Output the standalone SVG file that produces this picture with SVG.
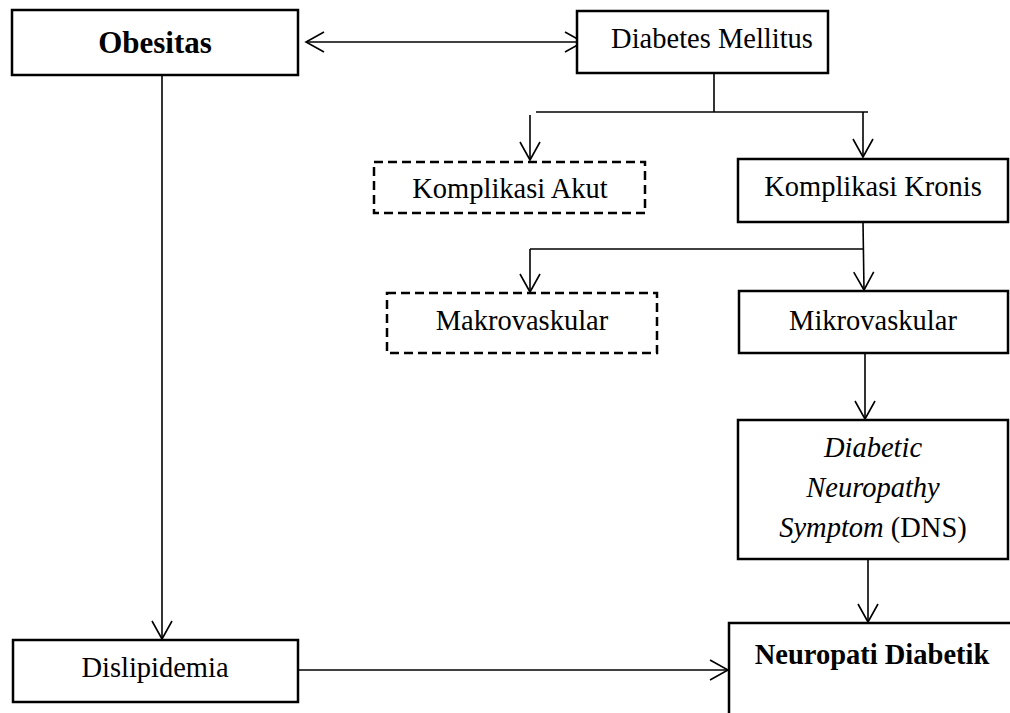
<svg xmlns="http://www.w3.org/2000/svg" width="1010" height="713" viewBox="0 0 1010 713">
<defs>
<style>
.box{fill:#fff;stroke:#000;stroke-width:2.5}
.dash{fill:#fff;stroke:#000;stroke-width:2.5;stroke-dasharray:9 5}
.t{font-family:"Liberation Serif","Times New Roman",serif;font-size:28.5px;fill:#000;text-anchor:middle}
.b{font-weight:bold}
.i{font-style:italic}
.c{fill:none;stroke:#000;stroke-width:1.6}
</style>
<marker id="ah" viewBox="-20 -12 22 24" refX="0" refY="0" markerWidth="22" markerHeight="24" markerUnits="userSpaceOnUse" orient="auto-start-reverse">
<path d="M-18,-10 L0,0 L-18,10" fill="none" stroke="#000" stroke-width="1.6"/>
</marker>
</defs>
<rect width="1010" height="713" fill="#fff"/>
<g id="connectors">
<line class="c" x1="306" y1="42" x2="583" y2="42" marker-start="url(#ah)" marker-end="url(#ah)"/>
<line class="c" x1="162" y1="75" x2="162" y2="639" marker-end="url(#ah)"/>
<polyline class="c" points="714,73 714,112"/>
<line class="c" x1="536" y1="112" x2="868" y2="112"/>
<line class="c" x1="530" y1="115" x2="530" y2="160" marker-end="url(#ah)"/>
<line class="c" x1="863" y1="112" x2="863" y2="157" marker-end="url(#ah)"/>
<line class="c" x1="863" y1="222" x2="864" y2="290" marker-end="url(#ah)"/>
<line class="c" x1="530" y1="249" x2="863" y2="249"/>
<line class="c" x1="530" y1="249" x2="530" y2="292" marker-end="url(#ah)"/>
<line class="c" x1="865" y1="353" x2="865" y2="419" marker-end="url(#ah)"/>
<line class="c" x1="868" y1="559" x2="868" y2="622" marker-end="url(#ah)"/>
<line class="c" x1="298" y1="670" x2="728" y2="670" marker-end="url(#ah)"/>
</g>
<g id="obesitas">
<rect class="box" x="12" y="10" width="286" height="65"/>
<text class="t b" x="155" y="53" style="font-size:31px">Obesitas</text>
</g>
<g id="diabetes-mellitus">
<rect class="box" x="577" y="11" width="251" height="62"/>
<text class="t" x="712" y="48">Diabetes Mellitus</text>
</g>
<g id="komplikasi-akut">
<rect class="dash" x="374" y="162" width="271" height="51"/>
<text class="t" x="510" y="198">Komplikasi Akut</text>
</g>
<g id="komplikasi-kronis">
<rect class="box" x="738" y="159" width="270" height="63"/>
<text class="t" x="873" y="196">Komplikasi Kronis</text>
</g>
<g id="makrovaskular">
<rect class="dash" x="387" y="293" width="270" height="60"/>
<text class="t" x="522" y="330">Makrovaskular</text>
</g>
<g id="mikrovaskular">
<rect class="box" x="739" y="291" width="269" height="62"/>
<text class="t" x="873" y="330">Mikrovaskular</text>
</g>
<g id="dns">
<rect class="box" x="738" y="420" width="270" height="139"/>
<text class="t i" x="873" y="457">Diabetic</text>
<text class="t i" x="873" y="497">Neuropathy</text>
<text class="t" x="873" y="537"><tspan class="i">Symptom</tspan> (DNS)</text>
</g>
<g id="dislipidemia">
<rect class="box" x="13" y="640" width="285" height="62"/>
<text class="t" x="155" y="677">Dislipidemia</text>
</g>
<g id="neuropati-diabetik">
<path d="M729,714 V623 H1011" fill="none" stroke="#000" stroke-width="2.5"/>
<text class="t b" x="872" y="664">Neuropati Diabetik</text>
</g>
</svg>
